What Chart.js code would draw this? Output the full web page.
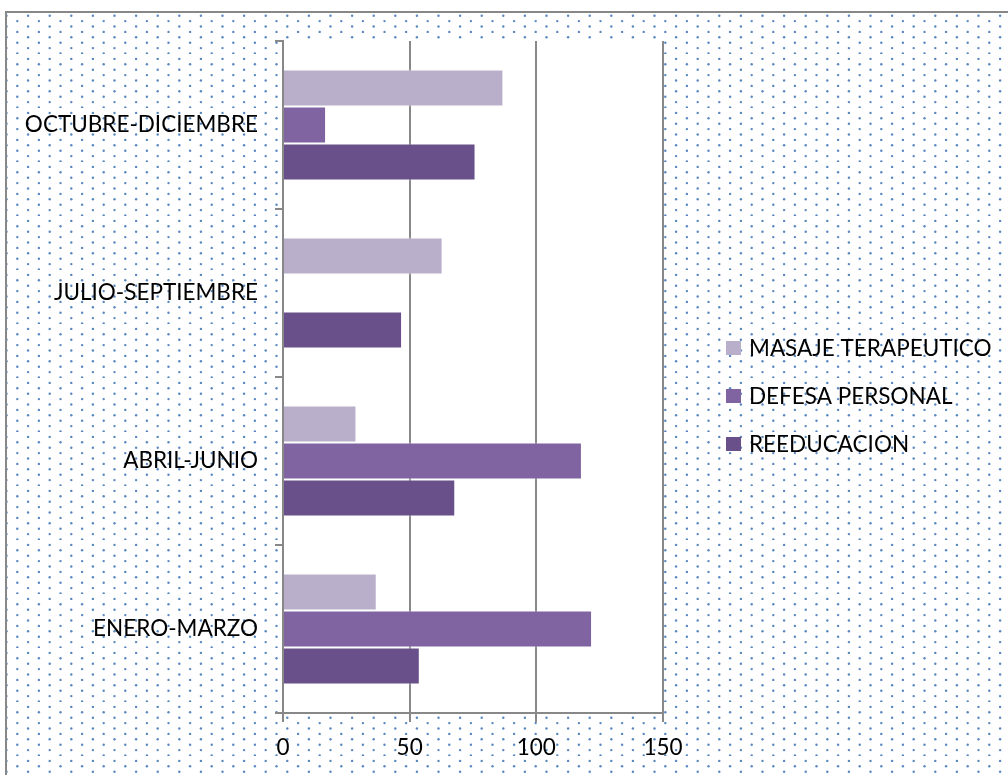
<!DOCTYPE html>
<html>
<head>
<meta charset="utf-8">
<script src="https://cdn.jsdelivr.net/npm/chart.js@4.4.1/dist/chart.umd.min.js"></script>
<style>
  html, body { margin: 0; padding: 0; background: #fff; }
  #contenedor { width: 1008px; height: 775px; position: relative; }
</style>
</head>
<body>
<div id="contenedor"><canvas id="grafico"></canvas></div>
<script>
// Datos del gráfico
const trimestres = ['OCTUBRE-DICIEMBRE', 'JULIO-SEPTIEMBRE', 'ABRIL-JUNIO', 'ENERO-MARZO'];
const masaje = [87, 63, 29, 37];
const defensa = [17, null, 118, 122];
const reeducacion = [76, 47, 68, 54];
const nombresSeries = ['MASAJE TERAPEUTICO', 'DEFESA PERSONAL', 'REEDUCACION'];
const ejeX = { min: 0, max: 150, paso: 50 };

const colores = ['#BAAFCB', '#8064A2', '#69508A'];
const gris = '#888888';
const fuente = 'Lato';

// Patrón de puntos azules del fondo (filas alternadas)
function patronPuntos(ctx) {
    const pasoX = 21.6, pasoY = 10.8, n = 5;
    const t = document.createElement('canvas');
    t.width = Math.round(pasoX * n);
    t.height = Math.round(pasoY * n);
    const p = t.getContext('2d');
    p.fillStyle = 'rgba(79, 129, 189, 0.95)';
    for (let i = 0; i < n; i++) {
        for (let j = 0; j < n; j++) {
            [[6.5, 4.9], [17.3, 10.3]].forEach(([dx, dy]) => {
                p.beginPath();
                p.arc(i * pasoX + dx, j * pasoY + dy, 1.2, 0, Math.PI * 2);
                p.fill();
            });
        }
    }
    return ctx.createPattern(t, 'repeat');
}

// Fondo: marco, puntos y área de trazado blanca
const fondo = {
    id: 'fondo',
    beforeDraw(chart) {
        const c = chart.ctx;
        const a = chart.chartArea;
        c.save();
        c.fillStyle = '#fff';
        c.fillRect(0, 0, chart.width, chart.height);
        c.fillStyle = patronPuntos(c);
        c.fillRect(7, 13, chart.width, chart.height);
        c.strokeStyle = gris;
        c.lineWidth = 2;
        c.strokeRect(6, 12, chart.width + 20, chart.height + 20);
        c.fillStyle = '#fff';
        c.fillRect(a.left, a.top, a.right - a.left, a.bottom - a.top);
        c.restore();
    }
};

// Leyenda a la derecha
const leyenda = {
    id: 'leyenda',
    afterDraw(chart) {
        const c = chart.ctx;
        c.save();
        c.font = '22.5px ' + fuente;
        c.textBaseline = 'middle';
        chart.data.datasets.forEach((ds, i) => {
            const y = 348 + i * 48;
            c.fillStyle = ds.backgroundColor;
            c.fillRect(726, y - 7, 15, 14);
            c.fillStyle = '#000';
            c.fillText(ds.label, 749, y + 1);
        });
        c.restore();
    }
};

const ctx = document.getElementById('grafico').getContext('2d');
const grafico = new Chart(ctx, {
    type: 'bar',
    data: {
        labels: trimestres,
        datasets: [
            { label: nombresSeries[0], data: masaje, backgroundColor: colores[0] },
            { label: nombresSeries[1], data: defensa, backgroundColor: colores[1] },
            { label: nombresSeries[2], data: reeducacion, backgroundColor: colores[2] }
        ]
    },
    options: {
        indexAxis: 'y',
        responsive: true,
        maintainAspectRatio: false,
        animation: false,
        layout: { padding: { top: 41, left: 0, right: 345, bottom: 0 } },
        datasets: {
            bar: {
                categoryPercentage: 0.66,
                barPercentage: 1,
                borderWidth: 1,
                borderColor: 'rgba(255, 255, 255, 0.45)'
            }
        },
        plugins: {
            legend: { display: false },
            tooltip: { enabled: false }
        },
        scales: {
            x: {
                min: ejeX.min,
                max: ejeX.max,
                grid: { color: gris, lineWidth: 2, tickLength: 9 },
                border: { color: gris, width: 2 },
                ticks: {
                    stepSize: ejeX.paso,
                    color: '#000',
                    padding: 12,
                    maxRotation: 0,
                    font: { family: fuente, size: 22.5 }
                },
                afterFit: (s) => { s.height = 62; }
            },
            y: {
                grid: { drawOnChartArea: false, color: gris, lineWidth: 2, tickLength: 8, offset: true },
                border: { color: gris, width: 2 },
                ticks: {
                    color: '#000',
                    padding: 17,
                    font: { family: fuente, size: 22.5 }
                },
                afterFit: (s) => { s.width = 283; }
            }
        }
    },
    plugins: [fondo, leyenda]
});
</script>
</body>
</html>
